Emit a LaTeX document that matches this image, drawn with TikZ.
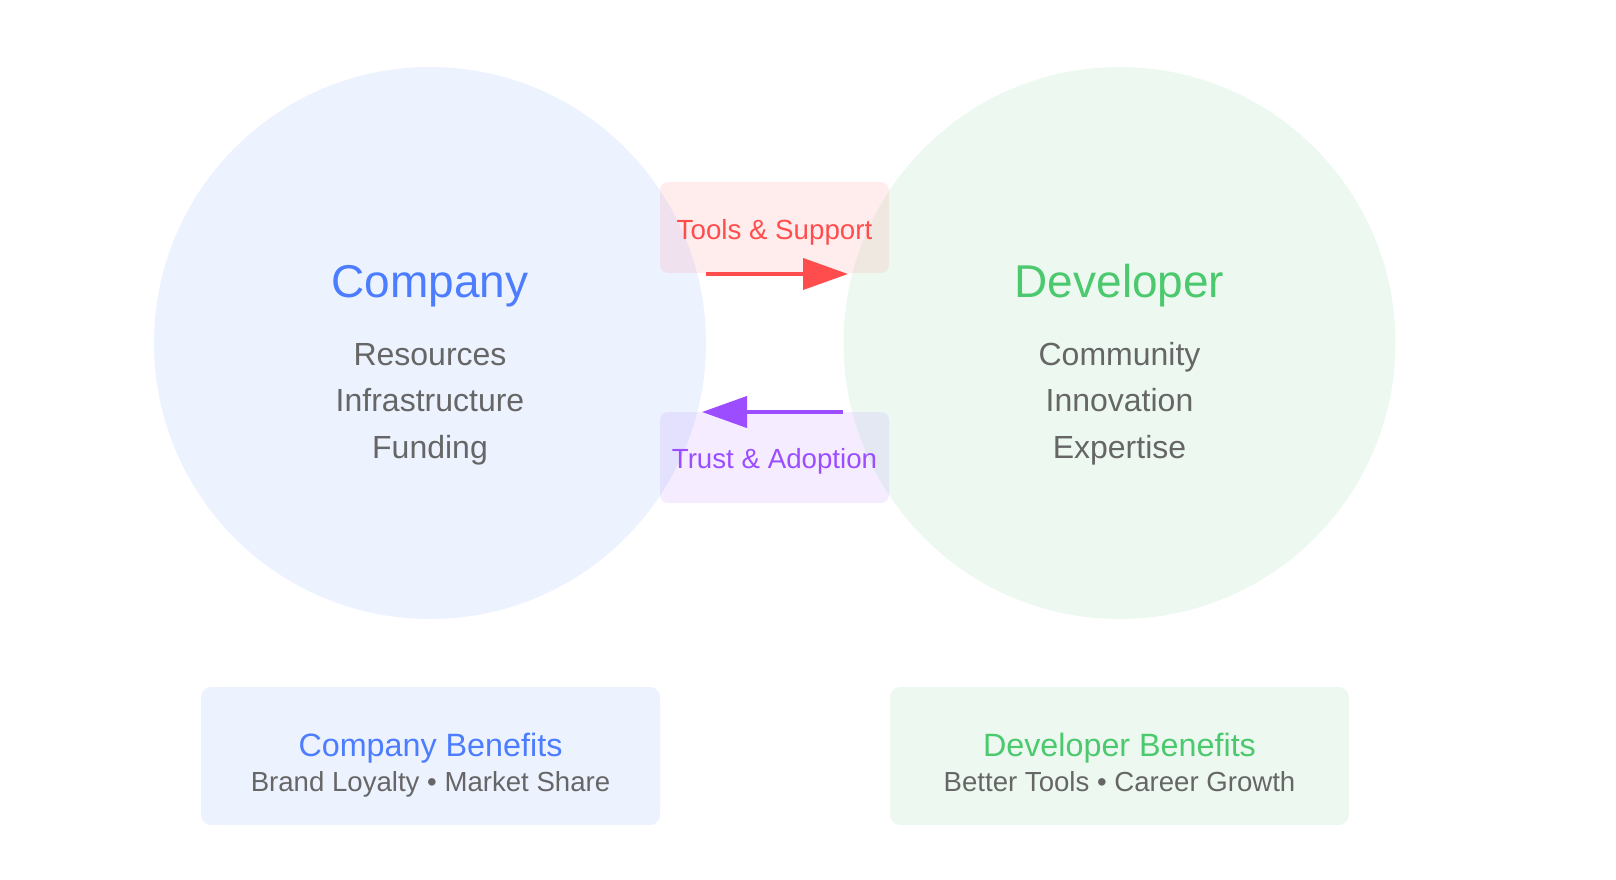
\documentclass[tikz,border=0pt]{standalone}
\usepackage{fontspec}
\setmainfont{Liberation Sans}
\usetikzlibrary{arrows.meta}
\definecolor{companyblue}{HTML}{4C7DFF}
\definecolor{devgreen}{HTML}{4CC96E}
\definecolor{supportred}{HTML}{FF4D4D}
\definecolor{trustpurple}{HTML}{9B4DFF}
\definecolor{itemgray}{HTML}{666666}
\begin{document}
\begin{tikzpicture}
  [x=1pt, y=-1pt,
   hub/.style={circle, inner sep=0pt, minimum size=552pt, fill=#1, fill opacity=0.1},
   flow box/.style={rectangle, rounded corners=8pt, inner sep=0pt,
     minimum width=229pt, minimum height=91pt, fill=#1, fill opacity=0.1},
   benefit box/.style={rectangle, rounded corners=10pt, inner sep=0pt,
     minimum width=459pt, minimum height=138pt, fill=#1, fill opacity=0.1},
   flow arrow/.style={draw=#1, line width=4pt, -{Triangle[length=45pt,width=31pt]}},
   title/.style={anchor=base, inner sep=0pt, font=\fontsize{46}{46}\selectfont},
   item/.style={anchor=base, inner sep=0pt, text=itemgray, font=\fontsize{32}{32}\selectfont},
   flow label/.style={anchor=base, inner sep=0pt, font=\fontsize{27.7}{27.7}\selectfont},
   benefit title/.style={anchor=base, inner sep=0pt, font=\fontsize{32.3}{32.3}\selectfont},
   benefit text/.style={anchor=base, inner sep=0pt, text=itemgray, font=\fontsize{27.6}{27.6}\selectfont}]
  \useasboundingbox (0,0) rectangle (1616,880);

  % the two partners
  \node[hub=companyblue] (company) at (430,343) {};
  \node[hub=devgreen] (developer) at (1119.5,343) {};

  % exchange between them
  \node[flow box=supportred] (support box) at (774.5,227.5) {};
  \node[flow box=trustpurple] (adoption box) at (774.5,457.5) {};
  \coordinate (support start) at (706,274);
  \coordinate (support end) at (848,274);
  \coordinate (adoption start) at (843,412);
  \coordinate (adoption end) at (702,412);
  \draw[flow arrow=supportred] (support start) -- (support end);
  \draw[flow arrow=trustpurple] (adoption start) -- (adoption end);
  \node[flow label, text=supportred] (support label) at (774.5,239) {Tools \& Support};
  \node[flow label, text=trustpurple] (adoption label) at (774.5,468) {Trust \& Adoption};

  % circle texts
  \node[title, text=companyblue] (company title) at (430,297) {Company};
  \node[item] (resources) at (430,365) {Resources};
  \node[item] (infrastructure) at (430,411.5) {Infrastructure};
  \node[item] (funding) at (430,458) {Funding};

  \node[title, text=devgreen] (developer title) at (1119.5,297) {Developer};
  \node[item] (community) at (1119.5,365) {Community};
  \node[item] (innovation) at (1119.5,411.5) {Innovation};
  \node[item] (expertise) at (1119.5,458) {Expertise};

  % benefits
  \node[benefit box=companyblue] (company benefits) at (430.5,756) {};
  \node[benefit title, text=companyblue] (company benefits title) at (430.5,756) {Company Benefits};
  \node[benefit text] (company benefits text) at (430.5,791) {Brand Loyalty • Market Share};

  \node[benefit box=devgreen] (developer benefits) at (1119.5,756) {};
  \node[benefit title, text=devgreen] (developer benefits title) at (1119.5,756) {Developer Benefits};
  \node[benefit text] (developer benefits text) at (1119.5,791) {Better Tools • Career Growth};
\end{tikzpicture}
\end{document}
